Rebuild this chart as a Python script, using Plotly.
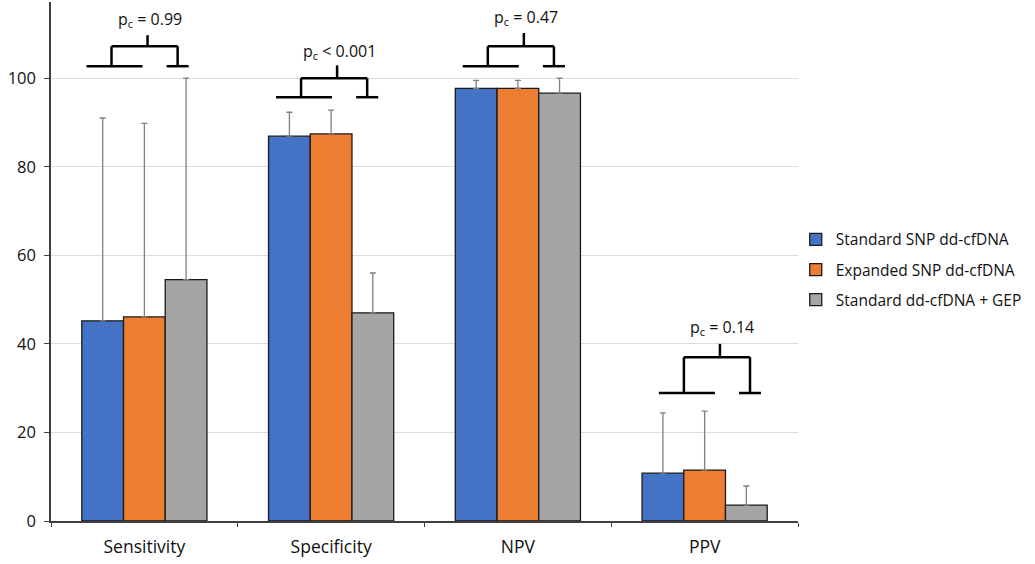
import plotly.graph_objects as go

# ---- data ----
categories = ["Sensitivity", "Specificity", "NPV", "PPV"]
series_names = ["Standard SNP dd-cfDNA", "Expanded SNP dd-cfDNA", "Standard dd-cfDNA + GEP"]
std_snp = [45.2, 86.9, 97.7, 10.8]
exp_snp = [46.1, 87.4, 97.7, 11.5]
std_gep = [54.5, 47.0, 96.6, 3.6]
std_snp_upper = [91.0, 92.3, 99.5, 24.4]
exp_snp_upper = [89.8, 92.8, 99.5, 24.8]
std_gep_upper = [100.0, 56.0, 100.0, 7.9]

p_labels = ["p<sub>c</sub> = 0.99", "p<sub>c</sub> &lt; 0.001", "p<sub>c</sub> = 0.47", "p<sub>c</sub> = 0.14"]
bracket_base = [102.7, 95.7, 102.7, 28.9]
bracket_top = [107.2, 100.0, 107.2, 37.0]
bracket_stem = [109.7, 102.9, 110.2, 40.0]
label_y = [113.2, 106.0, 113.8, 43.8]
bracket_shift = [-0.015, 0.0, 0.0, 0.05]

y_ticks = [0, 20, 40, 60, 80, 100]

# ---- style ----
colors = ["#4472C4", "#ED7D31", "#A5A5A5"]
FONT = "Open Sans"

fig = go.Figure()
values = [std_snp, exp_snp, std_gep]
uppers = [std_snp_upper, exp_snp_upper, std_gep_upper]
for name, vals, ups, col in zip(series_names, values, uppers, colors):
    fig.add_trace(go.Bar(
        x=categories, y=vals, name=name, legendgroup=name,
        marker=dict(color=col, line=dict(color="#1a1a1a", width=1.3)),
        error_y=dict(type="data", symmetric=False,
                     array=[u - v for u, v in zip(ups, vals)],
                     arrayminus=[0] * len(vals),
                     color="#7f7f7f", thickness=1.3, width=3),
    ))

# brackets
lw = 2.5
for i, (lab, b, t, s, ly, sh) in enumerate(zip(p_labels, bracket_base, bracket_top, bracket_stem, label_y, bracket_shift)):
    c = i + sh
    segs = [
        (c - 0.295, b, c + 0.005, b),
        (c + 0.134, b, c + 0.252, b),
        (c - 0.161, b, c - 0.161, t),
        (c + 0.193, b, c + 0.193, t),
        (c - 0.161, t, c + 0.193, t),
        (c + 0.032, t, c + 0.032, s),
    ]
    for x0, y0, x1, y1 in segs:
        fig.add_shape(type="line", xref="x", yref="y", x0=x0, y0=y0, x1=x1, y1=y1,
                      line=dict(color="black", width=lw))
    fig.add_annotation(x=c + 0.045, y=ly, xref="x", yref="y", text=lab, showarrow=False,
                       font=dict(family=FONT, size=16, color="#111"), yanchor="middle")

fig.update_layout(
    width=1035, height=564,
    margin=dict(l=51, r=237, t=2, b=43),
    paper_bgcolor="white", plot_bgcolor="white",
    barmode="group", bargap=0.33, bargroupgap=0,
    font=dict(family=FONT, size=14, color="#111"),
    legend=dict(x=0.997, xanchor="left", y=0.484, yanchor="middle",
                font=dict(family=FONT, size=15.5, color="#111"),
                traceorder="grouped", tracegroupgap=7, itemwidth=30,
                bgcolor="rgba(0,0,0,0)"),
    showlegend=True,
)
fig.update_xaxes(
    range=[-0.5, 3.5], showline=True, linecolor="#404040", linewidth=1.5,
    ticks="outside", tickson="boundaries", ticklen=4, tickcolor="#404040",
    tickfont=dict(family=FONT, size=17.5, color="#111"), showgrid=False,
    ticklabelstandoff=9,
)
fig.update_yaxes(
    range=[0, 117.2], tickvals=y_ticks, showline=True, linecolor="#404040", linewidth=1.5,
    ticks="outside", ticklen=5, tickcolor="#404040",
    showgrid=True, gridcolor="#dcdcdc", gridwidth=1, zeroline=False,
    tickfont=dict(family=FONT, size=16.5, color="#111"),
    ticklabelstandoff=5,
)

fig.write_html("out.html", config={"displayModeBar": False},
               post_script="document.body.style.margin='0';")
